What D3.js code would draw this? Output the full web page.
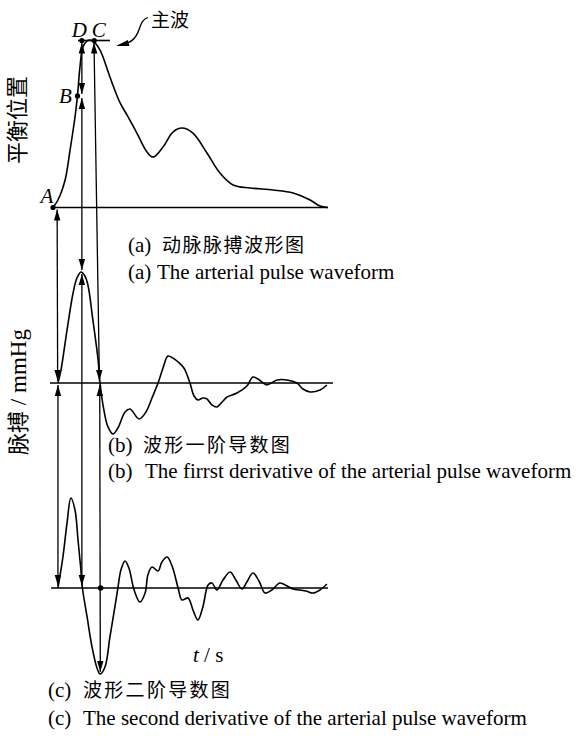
<!DOCTYPE html>
<html><head><meta charset="utf-8">
<script src="https://cdn.jsdelivr.net/npm/d3@7"></script>
<style>body{margin:0;background:#fff} svg{display:block}</style>
</head><body>
<svg id="chart" width="578" height="738"></svg>
<script>
// ---- data (time as % of pulse cycle, amplitudes as % of each panel's peak) ----
const pulseT = [0,1.8,4.4,6.2,8.0,8.9,9.8,10.9,12.7,14.5,17.1,20.7,24.4,26.9,30.5,34.2,36.4,40.0,43.6,46.9,50.9,56.0,60.7,65.5,71.6,80.0,87.3,93.5,97.1,100];
const pulseV = [0,4.5,16.5,34.4,54.2,66.8,84.1,96.1,100,99.7,94.3,78.1,62.6,55.4,44.6,33.2,30.2,36.2,45.2,47.6,44.6,32.6,20.7,13.5,11.7,10.5,8.7,4.5,0.9,0];

const d1T = [1.8,2.9,5.1,7.3,8.7,10.2,11.6,12.7,14.5,16.4,17.1,18.5,20.0,21.8,23.6,26.2,28.0,31.3,33.8,36.0,38.2,40.0,41.8,43.6,45.5,47.6,49.8,51.3,52.7,54.5,56.0,57.8,59.6,61.5,63.3,66.9,70.5,72.7,74.5,76.4,77.8,81.5,85.1,88.7,90.9,93.5,97.1,99.6];
const d1V = [0,11.7,47.7,81.1,94.6,100,96.4,88.3,56.8,20.7,0,-24.3,-39.6,-45.9,-40.5,-26.1,-23.4,-32.4,-26.1,-13.5,0,13.5,24.3,22.5,18.9,13.5,0,-11.7,-15.3,-13.5,-14.4,-19.8,-21.6,-17.1,-12.6,-9.0,-2.7,5.4,3.6,0,-1.8,2.7,2.7,0,-5.4,-8.1,-6.3,-1.8];

const d2T = [1.8,3.6,5.1,6.5,8.0,9.1,10.0,10.7,12.4,14.2,16.0,17.1,18.9,20.7,22.5,23.6,24.7,26.2,27.6,29.5,31.6,33.5,34.5,36.0,38.2,39.6,41.5,43.3,45.5,46.9,49.1,50.9,52.7,54.5,56.4,57.8,59.6,61.8,64.4,66.5,68.7,70.5,72.7,74.9,77.1,79.6,82.5,85.1,87.3,89.8,92.0,94.5,97.1,99.6];
const d2V = [0,34.4,72.2,100,86.7,53.3,25,0,-32.2,-65.6,-88.9,-95.6,-87.8,-54.4,-21.1,0,20,30,22.2,-2.2,-15.6,-5.6,14.4,23.3,18.9,28.9,34.4,24.4,0,-13.3,-11.1,-24.4,-35.6,-21.1,3.3,5.6,-2.2,8.9,17.8,8.9,-1.1,6.7,16.7,7.8,-5.6,-2.2,5.6,2.2,-1.1,-2.2,-3.3,-5.6,-2.2,4.4];

// feature points on the pulse waveform
const pointNames = ["A","B","D","C"];
const pointT = [0, 8.9, 10.5, 15.0];
const pointV = [0, 66.8, 100, 100];

// vertical double-arrow connectors: [t start, panel start, value start, t end, panel end, value end]
const connT0 = [1.5, 1.8, 10.5, 10.5, 10.5, 14.9, 17.0];
const connP0 = ["a","b","a","a","b","a","b"];
const connV0 = [0, 0, 100, 66.8, 100, 100, 0];
const connT1 = [1.7, 1.8, 10.5, 10.5, 10.5, 16.9, 17.2];
const connP1 = ["b","c","a","b","c","b","c"];
const connV1 = [0, 0, 66.8, 100, 0, 0, -95.6];

const captions = {
  a: ["(a)", "动脉脉搏波形图", "The arterial pulse waveform"],
  b: ["(b)", "波形一阶导数图", "The firrst derivative of the arterial pulse waveform"],
  c: ["(c)", "波形二阶导数图", "The second derivative of the arterial pulse waveform"]
};

// ---- drawing ----
const svg = d3.select("#chart");
const serif = "'Liberation Serif','Times New Roman',serif";
const cjk = "'Noto Sans CJK SC','Noto Sans CJK JP',sans-serif";

const x = d3.scaleLinear().domain([0, 100]).range([53, 328]);
const y = {
  a: d3.scaleLinear().domain([0, 100]).range([207.5, 40.5]),
  b: d3.scaleLinear().domain([0, 100]).range([383, 272]),
  c: d3.scaleLinear().domain([0, 100]).range([588, 498])
};

const g = svg.append("g");
const line = (yy) => d3.line().x(d => x(d[0])).y(d => yy(d[1])).curve(d3.curveCatmullRom.alpha(0.5));

// baselines
const baseExt = {a: [0, 100], b: [-1.1, 101.8], c: [-0.7, 100]};
for (const p of ["a","b","c"]) {
  g.append("line").attr("x1", x(baseExt[p][0])).attr("x2", x(baseExt[p][1]))
    .attr("y1", y[p](0)).attr("y2", y[p](0)).attr("stroke", "#000").attr("stroke-width", 1.6);
}
// peak level line
g.append("line").attr("x1", x(9.1)).attr("x2", x(20.7)).attr("y1", y.a(100)).attr("y2", y.a(100))
  .attr("stroke", "#000").attr("stroke-width", 1.6);

// curves
const series = [["a", pulseT, pulseV], ["b", d1T, d1V], ["c", d2T, d2V]];
for (const [p, T, V] of series) {
  g.append("path").datum(T.map((t, i) => [t, V[i]])).attr("d", line(y[p]))
    .attr("fill", "none").attr("stroke", "#000").attr("stroke-width", 1.6);
}

// connectors with arrowheads at both ends
function head(xt, yt, dx, dy) {
  const len = Math.hypot(dx, dy), ux = dx/len, uy = dy/len, L = 11, W = 3.2;
  const bx = xt - ux*L, by = yt - uy*L;
  return `M${xt},${yt}L${bx - uy*W},${by + ux*W}L${bx + uy*W},${by - ux*W}Z`;
}
for (let i = 0; i < connT0.length; i++) {
  let x0 = x(connT0[i]), y0 = y[connP0[i]](connV0[i]);
  let x1 = x(connT1[i]), y1 = y[connP1[i]](connV1[i]);
  const gap = 2;
  const dx = x1 - x0, dy = y1 - y0, len = Math.hypot(dx, dy);
  const sx = x0 + dx/len*gap, sy = y0 + dy/len*gap;
  const ex = x1 - dx/len*gap, ey = y1 - dy/len*gap;
  g.append("line").attr("x1", sx).attr("y1", sy).attr("x2", ex).attr("y2", ey)
    .attr("stroke", "#000").attr("stroke-width", 1.3);
  g.append("path").attr("d", head(sx, sy, -dx, -dy)).attr("fill", "#000");
  g.append("path").attr("d", head(ex, ey, dx, dy)).attr("fill", "#000");
}

// points
pointT.forEach((t, i) => {
  g.append("circle").attr("cx", x(t)).attr("cy", y.a(pointV[i])).attr("r", 2.6).attr("fill", "#000");
});
g.append("circle").attr("cx", x(17.3)).attr("cy", y.c(0)).attr("r", 2.8).attr("fill", "#000");

// point labels
const labelOff = {A: [-6, -5], B: [-12, 7], D: [-2.5, -4], C: [4.5, -4]};
pointNames.forEach((n, i) => {
  g.append("text").attr("x", x(pointT[i]) + labelOff[n][0]).attr("y", y.a(pointV[i]) + labelOff[n][1])
    .attr("text-anchor", "middle").attr("font-family", serif).attr("font-style", "italic")
    .attr("font-size", 21).text(n);
});

// 主波 annotation
const ax = x(20.7), ay = y.a(100);
g.append("path")
  .attr("d", `M${ax+38},${ay-23} C${ax+29},${ay-20} ${ax+31},${ay-10} ${ax+25},${ay-3} C${ax+22},${ay+1} ${ax+19},${ay+2} ${ax+16},${ay+3}`)
  .attr("fill", "none").attr("stroke", "#000").attr("stroke-width", 1.3);
g.append("path").attr("d", `M${ax+6},${ay+5.5}L${ax+18},${ay-0.5}L${ax+19.5},${ay+5.5}Z`).attr("fill", "#000");
g.append("text").attr("x", ax + 41).attr("y", ay - 14).attr("font-family", cjk).attr("font-size", 19).text("主波");

// vertical axis labels
g.append("text").attr("transform", "translate(25,120) rotate(-90)").attr("text-anchor", "middle")
  .attr("font-family", cjk).attr("font-size", 22).text("平衡位置");
const yl = g.append("text").attr("transform", "translate(26,392) rotate(-90)").attr("text-anchor", "middle")
  .attr("font-family", serif).attr("font-size", 23);
yl.append("tspan").attr("font-family", cjk).attr("font-size", 22).text("脉搏");
yl.append("tspan").text(" / mmHg");

// t / s
const ts = g.append("text").attr("x", 193).attr("y", 662).attr("font-family", serif).attr("font-size", 21);
ts.append("tspan").attr("font-style", "italic").text("t");
ts.append("tspan").text(" / s");

// captions
const capPos = {a: [128, 252, 34, 279, 29, 1.5], b: [108, 452, 35, 478, 37, 2.3], c: [48, 697, 35, 725, 35, 2.3]};
for (const p of ["a","b","c"]) {
  const [cx, cy1, cjOff, cy2, enOff, ls] = capPos[p];
  const [tag, zh, en] = captions[p];
  g.append("text").attr("x", cx).attr("y", cy1).attr("font-family", serif).attr("font-size", 21).text(tag);
  g.append("text").attr("x", cx + cjOff).attr("y", cy1).attr("font-family", cjk).attr("font-size", 19)
    .attr("letter-spacing", ls).text(zh);
  g.append("text").attr("x", cx).attr("y", cy2).attr("font-family", serif).attr("font-size", 21).text(tag);
  g.append("text").attr("x", cx + enOff).attr("y", cy2).attr("font-family", serif).attr("font-size", 21).text(en);
}
</script>
</body></html>
